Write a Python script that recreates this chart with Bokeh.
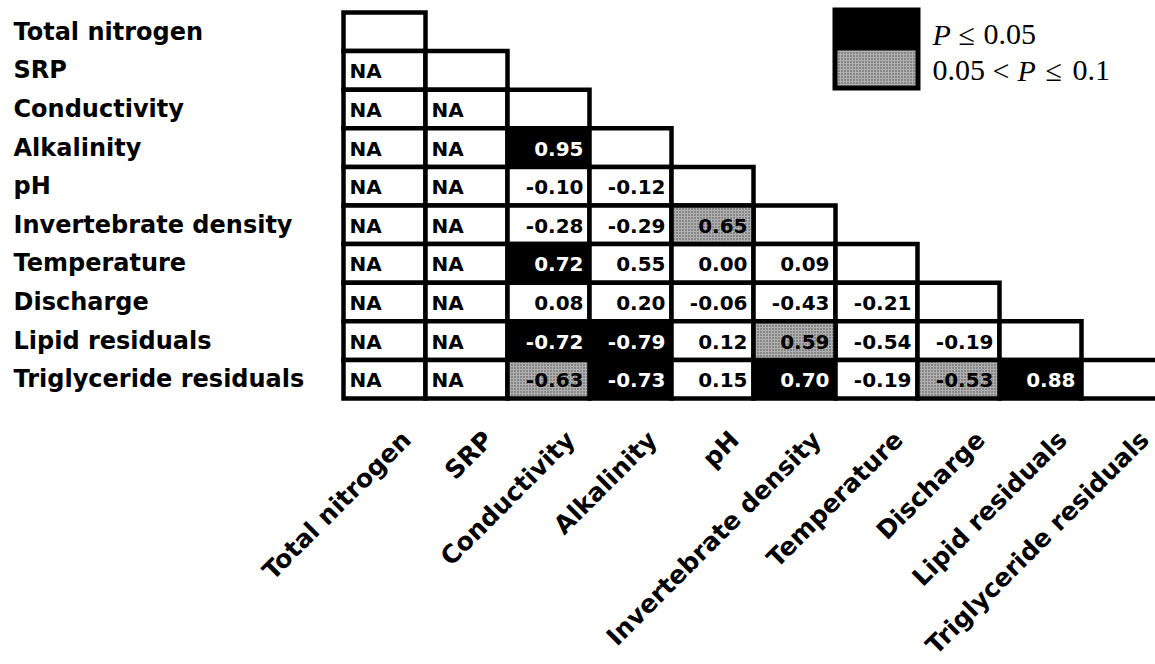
import math
from bokeh.plotting import figure
from bokeh.models import Range1d, ColumnDataSource
from bokeh.core.properties import value
from bokeh.embed import file_html
from bokeh.resources import INLINE

# ---------------- data ----------------
variables = ["Total nitrogen", "SRP", "Conductivity", "Alkalinity", "pH",
             "Invertebrate density", "Temperature", "Discharge",
             "Lipid residuals", "Triglyceride residuals"]

# lower-triangle correlations, row i has i entries (None = NA)
corr_rows = [
    [],
    [None],
    [None, None],
    [None, None, 0.95],
    [None, None, -0.10, -0.12],
    [None, None, -0.28, -0.29, 0.65],
    [None, None, 0.72, 0.55, 0.00, 0.09],
    [None, None, 0.08, 0.20, -0.06, -0.43, -0.21],
    [None, None, -0.72, -0.79, 0.12, 0.59, -0.54, -0.19],
    [None, None, -0.63, -0.73, 0.15, 0.70, -0.19, -0.53, 0.88],
]
# significance: 2 = P<=0.05, 1 = 0.05<P<=0.1, 0 = not significant
sig_rows = [
    [],
    [0],
    [0, 0],
    [0, 0, 2],
    [0, 0, 0, 0],
    [0, 0, 0, 0, 1],
    [0, 0, 2, 0, 0, 0],
    [0, 0, 0, 0, 0, 0, 0],
    [0, 0, 2, 2, 0, 1, 0, 0],
    [0, 0, 1, 2, 0, 2, 0, 1, 2],
]

# ---------------- layout ----------------
W, H = 1155, 664
X0_PX, CW = 343, 82.0     # table left edge (px), column width
Y0_PX, RH = 12, 38.6      # table top edge, row height

def px2x(px):
    return (px - X0_PX) / CW

def py2y(py):
    return (py - Y0_PX) / RH

p = figure(width=W, height=H, output_backend="svg", toolbar_location=None,
           x_range=Range1d(px2x(0), px2x(W)),
           y_range=Range1d(py2y(H), py2y(0)),
           x_axis_location=None, y_axis_location=None,
           min_border=0, outline_line_color=None,
           background_fill_color="white", border_fill_color="white")
p.xgrid.visible = False
p.ygrid.visible = False

BLACK, GRAY = "#000000", "#b0b0b0"
HATCH = dict(hatch_pattern="dot", hatch_color="#444444", hatch_scale=3, hatch_weight=1)

plain = dict(left=[], right=[], top=[], bottom=[], fill=[])
gray = dict(left=[], right=[], top=[], bottom=[])
vals = dict(x=[], y=[], t=[], c=[])
nas = dict(x=[], y=[], t=[])

n = len(variables)
for r in range(n):
    for c in range(r + 1):
        if c == r:
            s, v = None, None
        else:
            s, v = sig_rows[r][c], corr_rows[r][c]
        box = (c, c + 1, r, r + 1)
        if s == 1:
            for k, val in zip(("left", "right", "top", "bottom"), box):
                gray[k].append(val)
        else:
            for k, val in zip(("left", "right", "top", "bottom"), box):
                plain[k].append(val)
            plain["fill"].append(BLACK if s == 2 else "white")
        if c < r:
            if v is None:
                nas["x"].append(c); nas["y"].append(r + 0.5); nas["t"].append("NA")
            else:
                vals["x"].append(c + 1); vals["y"].append(r + 0.5)
                vals["t"].append(f"{v:.2f}")
                vals["c"].append("white" if s == 2 else "black")

p.quad(left="left", right="right", top="top", bottom="bottom", fill_color="fill",
       line_color="black", line_width=4.5, line_join="miter",
       source=ColumnDataSource(plain))
p.quad(left="left", right="right", top="top", bottom="bottom", fill_color=GRAY,
       line_color="black", line_width=4.5, line_join="miter",
       source=ColumnDataSource(gray), **HATCH)

cell_font = dict(text_font=value("DejaVu Sans"), text_font_style="bold",
                 text_font_size="20px", text_baseline="middle", y_offset=1)
p.text(x="x", y="y", text="t", text_color="c", text_align="right", x_offset=-6,
       source=ColumnDataSource(vals), **cell_font)
p.text(x="x", y="y", text="t", text_color="black", text_align="left", x_offset=6,
       source=ColumnDataSource(nas), **cell_font)

# row labels
p.text(x=[px2x(0)] * n, y=[r + 0.5 for r in range(n)], text=variables,
       text_align="left", text_baseline="middle", x_offset=13,
       text_font=value("DejaVu Sans"), text_font_style="bold",
       text_font_size="24px", text_color="black")
# column labels (rotated 45 degrees)
p.text(x=[c + 0.5 for c in range(n)], y=[n] * n, text=variables,
       angle=math.pi / 4, text_align="right", text_baseline="middle",
       x_offset=22, y_offset=37,
       text_font=value("DejaVu Sans"), text_font_style="bold",
       text_font_size="25px", text_color="black")

# ---------------- legend ----------------
p.quad(left=[px2x(832)], right=[px2x(920)], top=[py2y(7)], bottom=[py2y(90)],
       fill_color="black", line_color=None)
p.quad(left=[px2x(837)], right=[px2x(915)], top=[py2y(50)], bottom=[py2y(85)],
       fill_color=GRAY, line_color=None, **HATCH)

leg_font = dict(text_font=value("Liberation Serif"), text_font_size="30px",
                text_color="black", text_align="left", text_baseline="middle")
y1, y2 = py2y(34), py2y(70)
p.text(x=[px2x(932)], y=[y1], text=["P"], text_font_style="italic", **leg_font)
p.text(x=[px2x(958), px2x(983)], y=[y1, y1], text=["\u2264", "0.05"], **leg_font)
p.text(x=[px2x(932), px2x(992)], y=[y2, y2], text=["0.05", "<"], **leg_font)
p.text(x=[px2x(1017)], y=[y2], text=["P"], text_font_style="italic", **leg_font)
p.text(x=[px2x(1045), px2x(1072)], y=[y2, y2], text=["\u2264", "0.1"], **leg_font)

open("out.html", "w").write(file_html(p, INLINE))
